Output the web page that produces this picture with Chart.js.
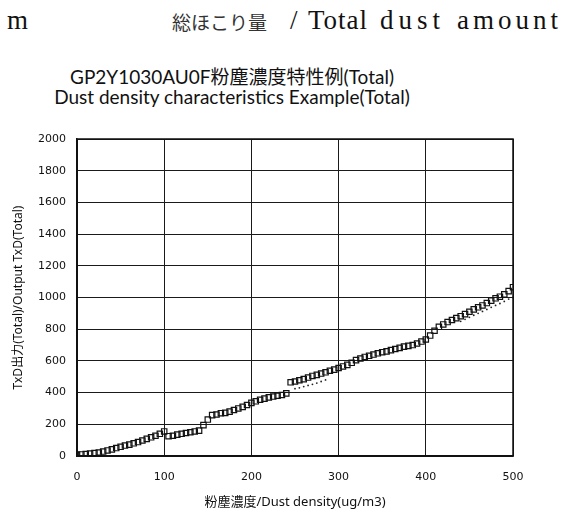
<!DOCTYPE html>
<html>
<head>
<meta charset="utf-8">
<script src="https://cdn.jsdelivr.net/npm/chart.js@4"></script>
<style>
  body { margin: 0; background: #fff; }
  #wrap { position: relative; width: 585px; height: 514px; overflow: hidden; }
  #myChart { position: absolute; left: 0; top: 0; }
  .t { position: absolute; white-space: nowrap; color: #111; }
  .hd { font-family: 'Liberation Serif', 'Noto Sans CJK JP', serif; font-size: 27px; top: 5px; }
  .jp { font-family: 'Noto Sans CJK JP', sans-serif; font-weight: 400; font-size: 19px; top: 8px; color: #333; }
  .ttl { font-family: 'Lato', 'Noto Sans CJK JP', sans-serif; font-size: 19px; left: 0; width: 464px; text-align: center; }
</style>
</head>
<body>
<div id="wrap">
  <span class="t hd" style="left:7px;">m</span>
  <span class="t jp" style="left:172px;">総ほこり量</span>
  <span class="t hd" style="left:290px;">/</span>
  <span class="t hd" style="left:308px; letter-spacing:1px;">Total</span>
  <span class="t hd" style="left:380px; letter-spacing:5px;">dust</span>
  <span class="t hd" style="left:457px; letter-spacing:4px;">amount</span>
  <div class="t ttl" style="top:62px;">GP2Y1030AU0F粉塵濃度特性例(Total)</div>
  <div class="t ttl" style="top:85px;">Dust density characteristics Example(Total)</div>
  <canvas id="myChart" width="585" height="514"></canvas>
</div>
<script>
// dust density (ug/m3) and TxD output, square markers
const densityX = [0, 5, 10, 15, 20, 25, 30, 35, 40, 45, 50, 55, 60, 65, 70, 75, 80, 85, 90, 95,
  100, 105, 110, 115, 120, 125, 130, 135, 140, 145, 150, 155, 160, 165, 170, 175, 180, 185, 190, 195,
  200, 205, 210, 215, 220, 225, 230, 235, 240, 245, 250, 255, 260, 265, 270, 275, 280, 285, 290, 295,
  300, 305, 310, 315, 320, 325, 330, 335, 340, 345, 350, 355, 360, 365, 370, 375, 380, 385, 390, 395,
  400, 405, 410, 415, 420, 425, 430, 435, 440, 445, 450, 455, 460, 465, 470, 475, 480, 485, 490, 495, 500];
const outputY = [8, 10, 12, 15, 18, 22, 28, 35, 42, 50, 58, 66, 72, 80, 88, 98, 108, 118, 128, 140,
  155, 125, 128, 135, 140, 145, 150, 155, 160, 195, 230, 258, 262, 270, 272, 280, 290, 300, 310, 322,
  335, 345, 355, 362, 370, 375, 380, 385, 395, 465, 470, 478, 485, 495, 505, 512, 520, 528, 538, 545,
  555, 565, 575, 588, 605, 615, 625, 632, 640, 648, 655, 660, 668, 675, 682, 690, 695, 700, 710, 722,
  735, 760, 790, 815, 830, 845, 858, 870, 882, 895, 910, 925, 938, 950, 965, 980, 995, 1005, 1020, 1040, 1065];

// second measurement, small dots
const dotX = [250, 255, 260, 265, 270, 275, 280, 285, 440, 445, 450, 455, 460, 465, 470, 475, 480, 485, 490, 495, 500];
const dotY = [425, 430, 438, 445, 452, 460, 470, 480, 850, 862, 875, 888, 900, 912, 925, 938, 950, 962, 975, 990, 1000];

const xTicks = [0, 100, 200, 300, 400, 500];
const yTicks = [0, 200, 400, 600, 800, 1000, 1200, 1400, 1600, 1800, 2000];

const toPoints = (xs, ys) => xs.map((x, i) => ({ x: x, y: ys[i] }));

const ctx = document.getElementById('myChart');
const chart = new Chart(ctx, {
  type: 'scatter',
  data: {
    datasets: [
      {
        label: 'Total',
        data: toPoints(densityX, outputY),
        pointStyle: 'rect',
        pointRadius: 3.8,
        borderColor: '#111',
        backgroundColor: 'rgba(255,255,255,0)',
        borderWidth: 1.2,
      },
      {
        label: 'Total 2',
        data: toPoints(dotX, dotY),
        pointRadius: 0.9,
        borderColor: '#222',
        backgroundColor: '#222',
        borderWidth: 0,
      },
    ],
  },
  options: {
    responsive: false,
    animation: false,
    layout: { padding: { top: 139, left: 0, right: 72, bottom: 0 } },
    plugins: {
      legend: { display: false },
      tooltip: { enabled: false },
    },
    scales: {
      x: {
        type: 'linear',
        min: xTicks[0],
        max: xTicks[xTicks.length - 1],
        afterBuildTicks: (s) => { s.ticks = xTicks.map(v => ({ value: v })); },
        afterFit: (s) => { s.height = 58; },
        ticks: { color: '#111', padding: 15, font: { family: 'DejaVu Sans', size: 11 }, callback: (v) => String(v) },
        grid: { color: '#1a1a1a', lineWidth: 1, drawTicks: false },
        border: { color: '#111', width: 1.5 },
        title: {
          display: true,
          text: '粉塵濃度/Dust density(ug/m3)',
          color: '#111',
          padding: { top: 0, bottom: 4 },
          font: { family: "'Noto Sans', 'Noto Sans CJK JP'", size: 13 },
        },
      },
      y: {
        type: 'linear',
        min: yTicks[0],
        max: yTicks[yTicks.length - 1],
        afterBuildTicks: (s) => { s.ticks = yTicks.map(v => ({ value: v })); },
        afterFit: (s) => { s.width = 77; },
        ticks: { color: '#111', padding: 11, font: { family: 'DejaVu Sans', size: 11 }, callback: (v) => String(v) },
        grid: { color: '#1a1a1a', lineWidth: 1, drawTicks: false },
        border: { color: '#111', width: 1.5 },
        title: {
          display: true,
          text: 'TxD出力(Total)/Output TxD(Total)',
          color: '#111',
          padding: { top: 11, bottom: 0 },
          font: { family: "'Noto Sans', 'Noto Sans CJK JP'", size: 12 },
        },
      },
    },
  },
  plugins: [{
    id: 'frame',
    afterDraw: (c) => {
      const a = c.chartArea;
      c.ctx.save();
      c.ctx.strokeStyle = '#111';
      c.ctx.lineWidth = 1.5;
      c.ctx.strokeRect(a.left, a.top, a.right - a.left, a.bottom - a.top);
      c.ctx.restore();
    },
  }],
});
</script>
</body>
</html>
